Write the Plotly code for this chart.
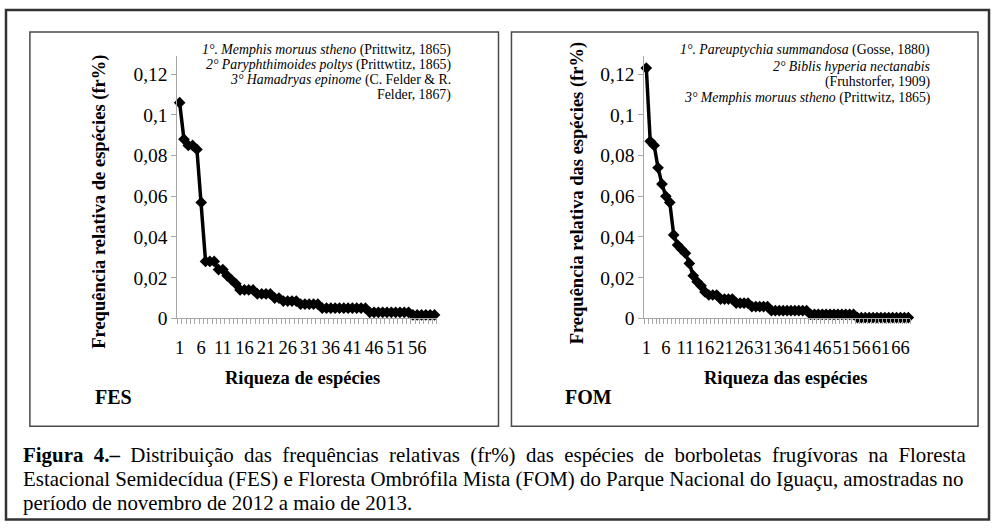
import plotly.graph_objects as go

W, H = 992, 531
SERIF = "Liberation Serif, Times New Roman, serif"
AX = "#a6a6a6"
BOX = "#4a4a4a"
NB = "\u00a0"
KY = 542.4 / 531.0   # the capture squeezes the page vertically; pre-compensate

# ---------------- data ----------------
fes_species = list(range(1, 61))
fes_freq = [0.106, 0.088, 0.085, 0.085, 0.083, 0.057, 0.028, 0.028, 0.028, 0.024,
            0.024, 0.021, 0.019, 0.017, 0.014, 0.014, 0.014, 0.014, 0.012, 0.012,
            0.012, 0.012, 0.010, 0.010, 0.0085, 0.0085, 0.0085, 0.0085, 0.007, 0.007,
            0.007, 0.007, 0.007, 0.005, 0.005, 0.005, 0.005, 0.005, 0.005, 0.005,
            0.005, 0.005, 0.005, 0.005, 0.003, 0.003, 0.003, 0.003, 0.003, 0.003,
            0.003, 0.003, 0.003, 0.003, 0.0017, 0.0017, 0.0017, 0.0017, 0.0017, 0.0017]

fom_species = list(range(1, 69))
fom_freq = [0.123, 0.087, 0.085, 0.074, 0.066, 0.060, 0.057, 0.041, 0.036, 0.034,
            0.032, 0.027, 0.021, 0.018, 0.016, 0.013, 0.0115, 0.0115, 0.0115, 0.0095,
            0.0095, 0.0095, 0.0095, 0.0075, 0.0075, 0.0075, 0.0075, 0.0058, 0.0058, 0.0058,
            0.0058, 0.0058, 0.0038, 0.0038, 0.0038, 0.0038, 0.0038, 0.0038, 0.0038, 0.0038,
            0.0038, 0.0038, 0.002, 0.002, 0.002, 0.002, 0.002, 0.002, 0.002, 0.002,
            0.002, 0.002, 0.002, 0.002, 0.0004, 0.0004, 0.0004, 0.0004, 0.0004, 0.0004,
            0.0004, 0.0004, 0.0004, 0.0004, 0.0004, 0.0004, 0.0004, 0.0004]

y_tick_vals = [0, 0.02, 0.04, 0.06, 0.08, 0.10, 0.12]
y_tick_text = ["0", "0,02", "0,04", "0,06", "0,08", "0,1", "0,12"]
fes_x_ticks = [1, 6, 11, 16, 21, 26, 31, 36, 41, 46, 51, 56]
fom_x_ticks = [1, 6, 11, 16, 21, 26, 31, 36, 41, 46, 51, 56, 61, 66]

fes_legend = ["<i>1°. Memphis moruus stheno</i> (Prittwitz, 1865)",
              "<i>2° Paryphthimoides poltys</i> (Prittwtitz, 1865)",
              "<i>3° Hamadryas epinome</i> (C. Felder &amp; R.",
              "Felder, 1867)"]
fom_legend = ["<i>1°. Pareuptychia summandosa</i> (Gosse, 1880)",
              "<i>2° Biblis hyperia nectanabis</i>",
              "(Fruhstorfer, 1909)",
              "<i>3° Memphis moruus stheno</i> (Prittwitz, 1865)"]

caption = ["<b>Figura 4.–</b> Distribuição das frequências relativas (fr%) das espécies de borboletas frugívoras na Floresta",
           "Estacional Semidecídua (FES) e Floresta Ombrófila Mista (FOM) do Parque Nacional do Iguaçu, amostradas no",
           "período de novembro de 2012 a maio de 2013."]
caption_pad = [1, 0, 0]   # extra spaces per gap to imitate justified text


def px(x):
    return x / W


def py(y):
    return 1 - min(y * KY, H - 0.6) / H


fig = go.Figure()
for xs, ys, xa, ya in [(fes_species, fes_freq, "x", "y"), (fom_species, fom_freq, "x2", "y2")]:
    fig.add_trace(go.Scatter(
        x=xs, y=ys, xaxis=xa, yaxis=ya, mode="lines+markers",
        line=dict(color="black", width=3.5),
        marker=dict(symbol="diamond", size=9, color="black"),
        cliponaxis=False, showlegend=False, hoverinfo="x+y"))


def xcfg(x0, x1, n, ticks, anchor):
    return dict(domain=[px(x0), px(x1)], anchor=anchor, range=[0.5, n + 0.5],
                showline=True, linecolor=AX, linewidth=1, showgrid=False, zeroline=False,
                tickmode="array", tickvals=ticks, ticktext=[str(t) for t in ticks],
                ticks="", tickangle=0, ticklabelstandoff=12,
                tickfont=dict(family=SERIF, size=18.5, color="black"),
                minor=dict(tickmode="array", tickvals=[k + 0.5 for k in range(n + 1)],
                           ticks="outside", ticklen=5, tickcolor=AX, tickwidth=1),
                fixedrange=True)


def ycfg(anchor):
    return dict(domain=[py(318.3), py(56)], anchor=anchor, range=[0, 0.1289],
                showline=True, linecolor=AX, linewidth=1, showgrid=False, zeroline=False,
                tickmode="array", tickvals=y_tick_vals, ticktext=y_tick_text,
                ticks="outside", ticklen=5, tickcolor=AX, tickwidth=1,
                tickfont=dict(family=SERIF, size=19.5, color="black"),
                fixedrange=True)


ann = []
# axis titles
ann.append(dict(x=px(96), y=py(202), text="<b>Frequência relativa de espécies (fr%)</b>",
                textangle=-90, font=dict(family=SERIF, size=18.5, color="black")))
ann.append(dict(x=px(576), y=py(193), text="<b>Frequência relativa das espécies (fr%)</b>",
                textangle=-90, font=dict(family=SERIF, size=18.5, color="black")))
ann.append(dict(x=px(300), y=py(378), text="<b>Riqueza de espécies</b>",
                font=dict(family=SERIF, size=18.5, color="black")))
ann.append(dict(x=px(785), y=py(378), text="<b>Riqueza das espécies</b>",
                font=dict(family=SERIF, size=18.5, color="black")))
ann.append(dict(x=px(90), y=py(397), text="<b>FES</b>", xanchor="left",
                font=dict(family=SERIF, size=20, color="black")))
ann.append(dict(x=px(562), y=py(397), text="<b>FOM</b>", xanchor="left",
                font=dict(family=SERIF, size=20, color="black")))
# species annotations
for txt, yy in zip(fes_legend, [50, 65, 80, 94.5]):
    ann.append(dict(x=px(451), y=py(yy), text=txt, xanchor="right",
                    font=dict(family=SERIF, size=13.8, color="black")))
for txt, yy in zip(fom_legend, [50, 66, 82, 98]):
    ann.append(dict(x=px(932), y=py(yy), text=txt, xanchor="right",
                    font=dict(family=SERIF, size=13.8, color="black")))
# caption
for txt, pad, yy in zip(caption, caption_pad, [455, 479, 503]):
    txt = txt.replace(" ", " " + NB * pad) if pad else txt
    ann.append(dict(x=px(18), y=py(yy), text=txt, xanchor="left",
                    font=dict(family=SERIF, size=20.9, color="black")))
for a in ann:
    a.update(xref="paper", yref="paper", showarrow=False)
    a.setdefault("xanchor", "center")
    a.setdefault("yanchor", "middle")

shapes = [
    dict(type="rect", x0=px(3), x1=px(989), y0=py(529), y1=py(10), line=dict(color="#333333", width=2.5)),
    dict(type="rect", x0=px(27), x1=px(497), y0=py(426), y1=py(32), line=dict(color=BOX, width=1.5)),
    dict(type="rect", x0=px(510), x1=px(978), y0=py(426), y1=py(32), line=dict(color=BOX, width=1.5)),
]
for s in shapes:
    s.update(xref="paper", yref="paper", layer="below")

fig.update_layout(
    width=W, height=H, margin=dict(l=0, r=0, t=0, b=0),
    paper_bgcolor="white", plot_bgcolor="white",
    xaxis=xcfg(175, 435, len(fes_species), fes_x_ticks, "y"),
    yaxis=ycfg("x"),
    xaxis2=xcfg(643.3, 910, len(fom_species), fom_x_ticks, "y2"),
    yaxis2=ycfg("x2"),
    annotations=ann, shapes=shapes, separators=",.",
)

post = ("var s=document.body.style;s.margin='0px';s.padding='0px';s.fontSize='0px';s.lineHeight='0px';"
        "s.overflow='hidden';s.height='531px';"
        "var h=document.documentElement.style;h.overflow='hidden';h.height='531px';")
fig.write_html("out.html", config={"displayModeBar": False}, post_script=post)
